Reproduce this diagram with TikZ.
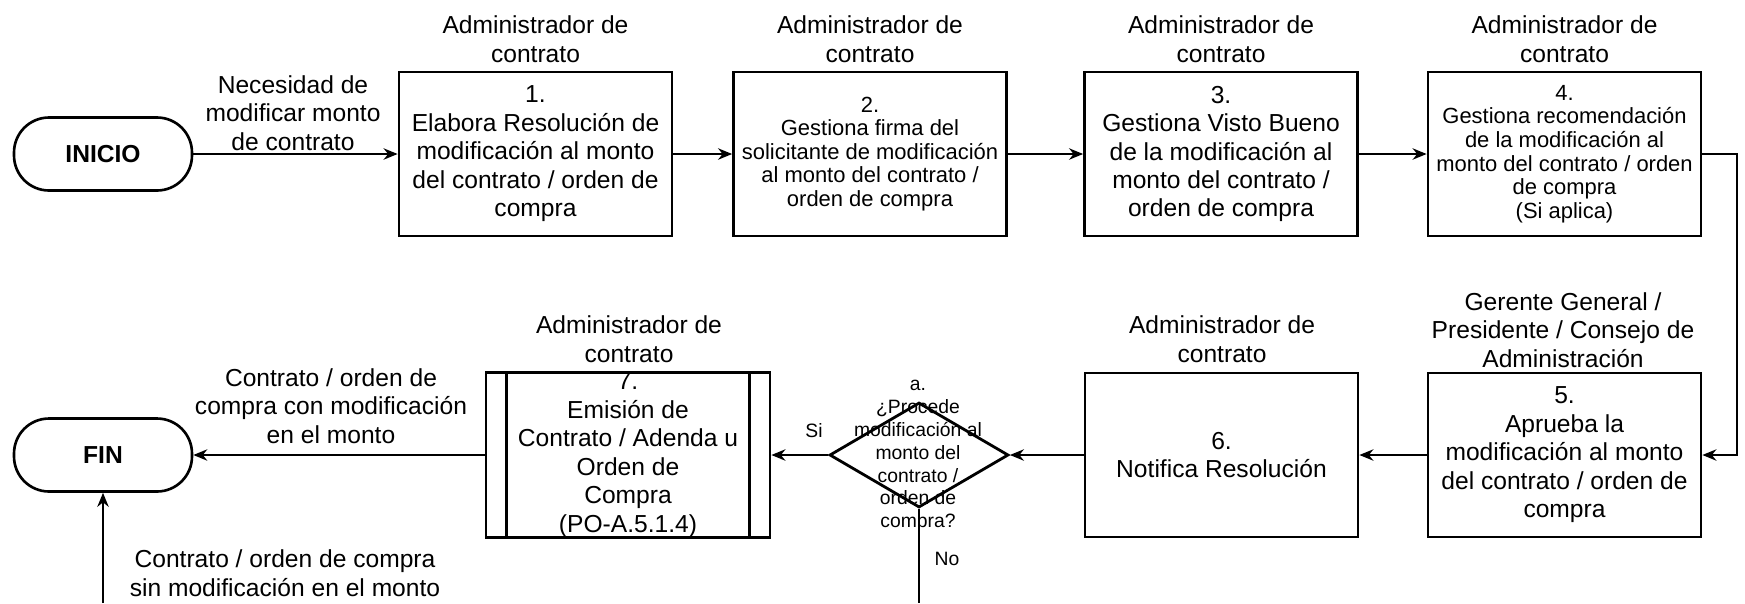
\documentclass[tikz,border=0pt]{standalone}
\usepackage{fontspec}
\setmainfont{Liberation Sans}
\usetikzlibrary{arrows.meta,shapes.geometric,calc}
\begin{document}
\begin{tikzpicture}[x=0.02cm,y=-0.02cm,
  every node/.style={inner sep=0pt, align=center, font=\fontsize{14}{16.2}\selectfont},
  proc/.style={draw, line width=1.6pt, minimum width=5.46cm, minimum height=3.28cm},
  smalltxt/.style={font=\fontsize{12.5}{13.4}\selectfont},
  tinytxt/.style={font=\fontsize{11}{13}\selectfont},
  term/.style={draw, line width=1.5pt, rounded corners=0.7cm, minimum width=3.56cm, minimum height=1.46cm, font=\fontsize{14}{16.2}\selectfont\bfseries},
  decis/.style={draw, diamond, line width=1.6pt, minimum width=3.58cm, minimum height=2.1cm},
  arr/.style={line width=1pt, -{Stealth[length=8pt,width=6.5pt]}},
  lin/.style={line width=1pt}
]
\useasboundingbox (0,0) rectangle (1745,603);

% terminals
\node[term] (ini) at (103,154) {INICIO};
\node[term] (fin) at (103,455) {FIN};

% top row
\node[proc] (b1) at (535.5,154) {1.\\Elabora Resolución de\\modificación al monto\\del contrato / orden de\\compra};
\node[proc,smalltxt] (b2) at (870,154) {2.\\Gestiona firma del\\solicitante de modificación\\al monto del contrato /\\orden de compra};
\node[proc] (b3) at (1221,154) {3.\\Gestiona Visto Bueno\\de la modificación al\\monto del contrato /\\orden de compra};
\node[proc,smalltxt] (b4) at (1564.5,154) {4.\\Gestiona recomendación\\de la modificación al\\monto del contrato / orden\\de compra\\(Si aplica)};

% bottom row
\node[proc] (b5) at (1564.5,455) {5.\\Aprueba la\\modificación al monto\\del contrato / orden de\\compra};
\node[proc] (b6) at (1221.5,455) {6.\\Notifica Resolución};
\node[decis] (dia) at (919,455) {};
\node[tinytxt] (diat) at (918,456) {a.\\¿Procede\\modificación al\\monto del\\contrato /\\orden de\\compra?};
\node[proc, minimum width=5.68cm] (b7) at (628,455) {7.\\Emisión de\\Contrato / Adenda u\\Orden de\\Compra\\(PO-A.5.1.4)};
\draw[line width=1.6pt] ([xshift=0.44cm]b7.north west) -- ([xshift=0.44cm]b7.south west);
\draw[line width=1.6pt] ([xshift=-0.44cm]b7.north east) -- ([xshift=-0.44cm]b7.south east);

% role labels
\node (t1) at (535.5,39) {Administrador de\\contrato};
\node (t2) at (870,39) {Administrador de\\contrato};
\node (t3) at (1221,39) {Administrador de\\contrato};
\node (t4) at (1564.5,39) {Administrador de\\contrato};
\node (t5) at (1563,330) {Gerente General /\\Presidente / Consejo de\\Administración};
\node (t6) at (1222,339) {Administrador de\\contrato};
\node (t7) at (629,339) {Administrador de\\contrato};

% connectors
\draw[arr] (ini.east) -- (b1.west);
\draw[arr] (b1.east) -- (b2.west);
\draw[arr] (b2.east) -- (b3.west);
\draw[arr] (b3.east) -- (b4.west);
\coordinate (r1) at (1737,154);
\coordinate (r2) at (1737,455);
\draw[arr] (b4.east) -- (r1) -- (r2) -- (b5.east);
\draw[arr] (b5.west) -- (b6.east);
\draw[arr] (b6.west) -- (dia.east);
\draw[arr] (dia.west) -- (b7.east);
\draw[arr] (b7.west) -- (fin.east);
\coordinate (nb) at (919,603);
\draw[lin] (dia.south) -- (nb);
\coordinate (fb) at (103,603);
\draw[arr] (fb) -- (fin.south);

% connector labels
\node (l0) at (293,113) {Necesidad de\\modificar monto\\de contrato};
\node (l1) at (331,406) {Contrato / orden de\\compra con modificación\\en el monto};
\node (l2) at (285,573) {Contrato / orden de compra\\sin modificación en el monto};
\node[tinytxt] (lsi) at (814,431) {Si};
\node[tinytxt] (lno) at (947,559) {No};
\end{tikzpicture}
\end{document}
